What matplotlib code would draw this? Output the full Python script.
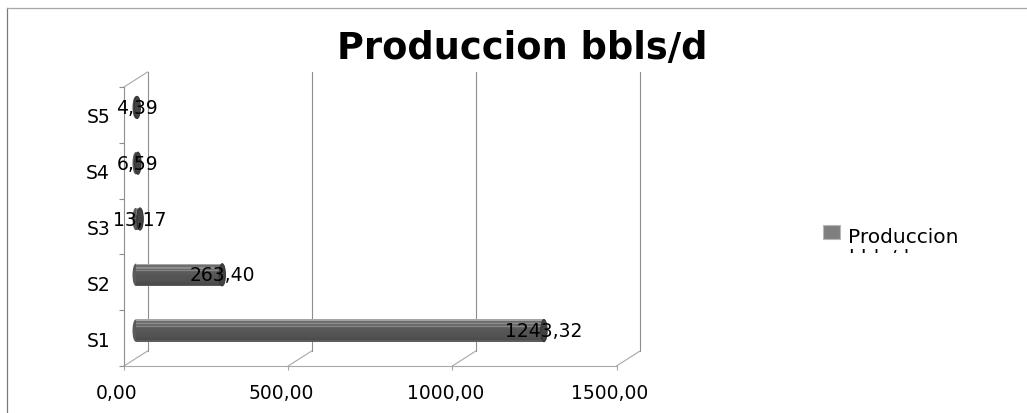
import matplotlib
matplotlib.use("Agg")
import matplotlib.pyplot as plt
from matplotlib.patches import Rectangle, Ellipse
from matplotlib.transforms import ScaledTranslation, Bbox
from matplotlib.lines import Line2D

# ---- data ----
categories = ["S1", "S2", "S3", "S4", "S5"]
produccion = [1243.32, 263.40, 13.17, 6.59, 4.39]
x_ticks = [0, 500, 1000, 1500]
x_tick_labels = ["0,00", "500,00", "1000,00", "1500,00"]
title = "Produccion bbls/d"
series_name = "Produccion\nbbls/d"

W, H = 1027, 414
fig = plt.figure(figsize=(W / 100, H / 100), dpi=100)


def fx(px):
    return px / W


def fy(py):
    return (H - py) / H


# front plane of the 3-D box, in pixels from the top-left corner
left_px, right_px, top_px, bottom_px = 124, 616.5, 88, 367
ax = fig.add_axes([fx(left_px), fy(bottom_px),
                   (right_px - left_px) / W, (bottom_px - top_px) / H])
XMAX = 1500
ax.set_xlim(0, XMAX)
ax.set_ylim(0.5, len(categories) + 0.5)

# depth of the box (back wall offset), expressed in data units
px_x = XMAX / (right_px - left_px)
px_y = len(categories) / (bottom_px - top_px)
DX, DY = 23.5 * px_x, 15 * px_y

grid_c = "#8e8e8e"
light_c = "#a8a8a8"
lw = 0.8
ytop = len(categories) + 0.5

# back wall gridlines
for v in x_ticks:
    ax.add_line(Line2D([v + DX, v + DX], [0.5 + DY, ytop + DY], color=grid_c,
                       lw=lw, clip_on=False, zorder=1))
# floor diagonals
for v in x_ticks:
    ax.add_line(Line2D([v, v + DX], [0.5, 0.5 + DY], color=light_c,
                       lw=lw, clip_on=False, zorder=1))
# top-left diagonal of the side wall
ax.add_line(Line2D([0, DX], [ytop, ytop + DY], color=light_c,
                   lw=lw, clip_on=False, zorder=1))

# spines: front left axis and front floor
for s in ["top", "right"]:
    ax.spines[s].set_visible(False)
ax.spines["left"].set_color(grid_c)
ax.spines["left"].set_linewidth(lw)
ax.spines["bottom"].set_color(light_c)
ax.spines["bottom"].set_linewidth(lw)

# cylinders
bar_h = 0.40
cap_w = 6.5 * px_x
stripes = ["#a4a4a4", "#6c6c6c", "#737373", "#8c8c8c", "#6a6a6a", "#868686",
           "#606060", "#5a5a5a", "#575757", "#565656", "#555555", "#545454",
           "#535353", "#525252", "#505050", "#4e4e4e", "#4b4b4b", "#5c5c5c"]
n = len(stripes)
for i, (cat, v) in enumerate(zip(categories, produccion)):
    yc = i + 1 + DY / 2
    x0 = DX / 2
    # rounded left end
    ax.add_patch(Ellipse((x0, yc), cap_w, bar_h, facecolor="#5a5a5a",
                         edgecolor="none", zorder=3, clip_on=False))
    sh = bar_h / n
    for k, c in enumerate(stripes):
        y0 = yc + bar_h / 2 - (k + 1) * sh
        ax.add_patch(Rectangle((x0, y0), v, sh * 1.02, facecolor=c,
                               edgecolor="none", zorder=4, clip_on=False))
    # right end cap
    ax.add_patch(Ellipse((x0 + v, yc), cap_w, bar_h, facecolor="#424242",
                         edgecolor="#2e2e2e", lw=0.6, zorder=5, clip_on=False))
    label = f"{v:.2f}".replace(".", ",")
    ax.text(x0 + v, yc, label, ha="center", va="center", fontsize=13.5,
            color="black", zorder=6, clip_on=False)

# category axis: ticks on boundaries, labels on centres
ax.set_yticks([k + 0.5 for k in range(len(categories) + 1)])
ax.set_yticklabels([""] * (len(categories) + 1))
ax.set_yticks(range(1, len(categories) + 1), minor=True)
ax.set_yticklabels(categories, minor=True, fontsize=13.5)
ax.tick_params(axis="y", which="major", length=3.6, color=grid_c, width=lw)
ax.tick_params(axis="y", which="minor", length=0, pad=10)

# value axis
ax.set_xticks(x_ticks)
ax.set_xticklabels(x_tick_labels, fontsize=13.5)
ax.tick_params(axis="x", length=2.9, color=light_c, width=lw, pad=9.5)
shift = ScaledTranslation(-7 / 100, 0, fig.dpi_scale_trans)
for lbl in ax.get_xticklabels():
    lbl.set_transform(lbl.get_transform() + shift)

ax.set_facecolor("none")

# title
fig.text(522 / W, fy(59.3), title, ha="center", va="baseline",
         fontsize=26.5, fontweight="bold")

# legend: swatch plus a two-line label whose box cuts off the second line
fig.add_artist(Rectangle((fx(822.7), fy(240)), fx(840) - fx(822.7),
                         fy(226) - fy(240), transform=fig.transFigure,
                         facecolor="#7f7f7f", edgecolor="#b8b8b8", lw=0.8))
leg_txt = fig.text(fx(848), fy(227.7), series_name, ha="left", va="top",
                   fontsize=14.5, linespacing=1.18)
leg_txt.set_clip_box(Bbox.from_extents(800, H - 253.5, W, H - 200))
leg_txt.set_clip_on(True)

# chart-area border (only left and top edges fall inside the image)
fig.add_artist(Line2D([fx(7.3), fx(7.3)], [0, fy(9.3)],
                      transform=fig.transFigure, color="#7a7a7a", lw=0.9))
fig.add_artist(Line2D([fx(7.3), 1], [fy(9.3), fy(9.3)],
                      transform=fig.transFigure, color="#a6a6a6", lw=0.9))

fig.savefig("out.png", dpi=100, facecolor="white")
